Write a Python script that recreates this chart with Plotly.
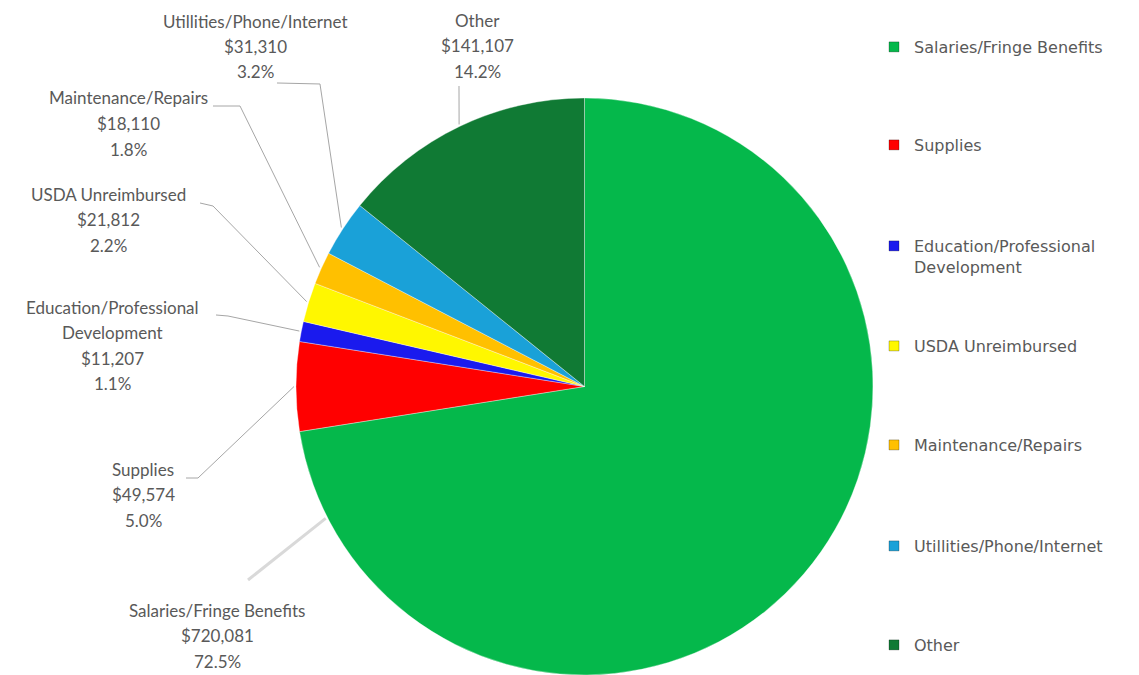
import math
import plotly.graph_objects as go

# ---------------- data ----------------
categories = ["Salaries/Fringe Benefits", "Supplies", "Education/Professional Development",
              "USDA Unreimbursed", "Maintenance/Repairs", "Utillities/Phone/Internet", "Other"]
amounts = [720081, 49574, 11207, 21812, 18110, 31310, 141107]
colors = ["#05B84B", "#FF0000", "#1A1AEE", "#FFF700", "#FFC000", "#1AA1D8", "#107A34"]
legend_names = ["Salaries/Fringe Benefits", "Supplies", "Education/Professional<br>Development",
                "USDA Unreimbursed", "Maintenance/Repairs", "Utillities/Phone/Internet", "Other"]
label_titles = [["Salaries/Fringe Benefits"], ["Supplies"], ["Education/Professional", "Development"],
                ["USDA Unreimbursed"], ["Maintenance/Repairs"], ["Utillities/Phone/Internet"], ["Other"]]

# ---------------- layout constants (screen pixels) ----------------
W, H = 1139, 675
OFF = 8            # page body margin of the browser
CX, CY, R = 584.5, 386.5, 288.5
TEXT = "#595959"
LINE_GAP = 25.5
# label text center x, first line y
label_pos = [(217, 610), (143, 469), (112, 307), (108, 194), (128, 98), (255, 21), (478, 20)]
# leader-line start points, elbow points
leader_start = [None, (186, 478), (216, 315), (200, 203), (213, 106), (277, 83), (459, 86)]
leader_elbow = [None, (198, 478), (228, 316), (213, 206), (240, 106), (320, 84), None]
legend_y = [47, 145, 246, 346, 445, 546, 645]


def px(x):
    return (x - OFF) / W


def py(y):
    return 1 - (y - OFF) / H


total = sum(amounts)
fig = go.Figure()
fig.add_trace(go.Pie(
    labels=categories, values=amounts, sort=False, direction="clockwise", rotation=0,
    marker=dict(colors=colors, line=dict(color="rgba(255,255,255,0.35)", width=1)),
    textinfo="none", hoverinfo="label+value+percent", showlegend=False,
    domain=dict(x=[px(CX - R), px(CX + R)], y=[py(CY + R), py(CY - R)]),
))

shapes = []
annotations = []
cum = 0.0
for i, v in enumerate(amounts):
    frac = v / total
    mid = (cum + frac / 2) * 2 * math.pi
    cum += frac
    pct = f"{frac * 100:.1f}%"
    lines = label_titles[i] + [f"${v:,}", pct]
    lx, ly = label_pos[i]
    for k, t in enumerate(lines):
        annotations.append(dict(x=px(lx), y=py(ly + k * LINE_GAP), xref="paper", yref="paper",
                                text=t, showarrow=False, xanchor="center", yanchor="middle",
                                font=dict(family="Lato", size=17, color=TEXT)))
    if leader_start[i] is not None:
        ax = CX + (R + 2) * math.sin(mid)
        ay = CY - (R + 2) * math.cos(mid)
        pts = [leader_start[i]]
        if leader_elbow[i] is not None:
            pts.append(leader_elbow[i])
        pts.append((ax, ay))
        path = "M " + " L ".join(f"{px(x):.5f},{py(y):.5f}" for x, y in pts)
        shapes.append(dict(type="path", path=path, xref="paper", yref="paper",
                           line=dict(color="#A6A6A6", width=1)))

# Salaries leader: thick light line towards the lower-left part of the slice
sal_ang = math.radians(243)
sx = CX + (R + 2) * math.sin(sal_ang)
sy = CY - (R + 2) * math.cos(sal_ang)
shapes.append(dict(type="line", xref="paper", yref="paper", x0=px(248), y0=py(580),
                   x1=px(sx), y1=py(sy), line=dict(color="#D9D9D9", width=3)))

# legend entries
legends = {}
for i, name in enumerate(legend_names):
    key = "legend" if i == 0 else f"legend{i + 1}"
    fig.add_trace(go.Scatter(x=[None], y=[None], mode="markers", name=name,
                             marker=dict(symbol="square", size=10, color=colors[i],
                                         line=dict(color="rgba(0,0,0,0.25)", width=1)),
                             legend=key, showlegend=True, hoverinfo="skip"))
    legends[key] = dict(x=px(874), y=py(legend_y[i] - 17), xanchor="left", yanchor="top",
                        valign="top", bgcolor="rgba(0,0,0,0)",
                        font=dict(family="DejaVu Sans", size=16, color=TEXT))

fig.update_layout(
    width=W, height=H, margin=dict(l=0, r=0, t=0, b=0),
    paper_bgcolor="white", plot_bgcolor="white",
    xaxis=dict(visible=False), yaxis=dict(visible=False),
    shapes=shapes, annotations=annotations,
    **legends,
)

fig.write_html("out.html")
